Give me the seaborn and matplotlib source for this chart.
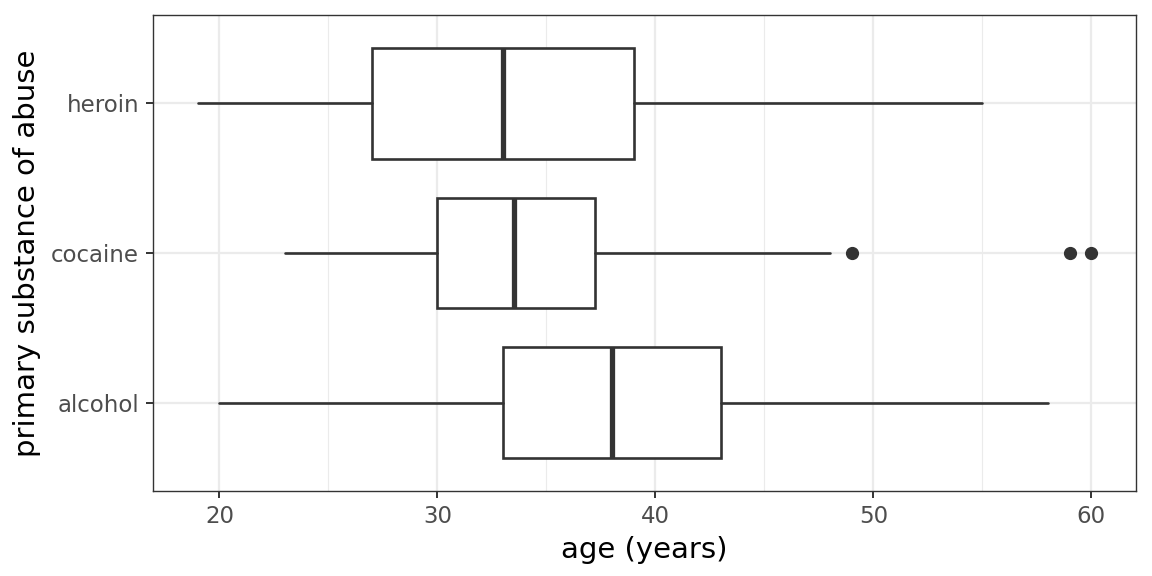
import matplotlib
matplotlib.use("Agg")
import matplotlib.pyplot as plt
import seaborn as sns

# five-number summaries (ages in years)
substances = ["alcohol", "cocaine", "heroin"]
whisker_low = [20, 23, 19]
q1 = [33, 30, 27]
median = [38, 33.5, 33]
q3 = [43, 37.25, 39]
whisker_high = [58, 48, 55]
outliers = [[], [49, 59, 60], []]

x_ticks = [20, 30, 40, 50, 60]
x_minor = [25, 35, 45, 55]

sns.set_theme(style="white")
plt.rcParams["font.family"] = ["DejaVu Sans"]

dark = "#333333"
grid_col = "#EBEBEB"

stats = []
for i, name in enumerate(substances):
    stats.append({
        "label": name,
        "whislo": whisker_low[i],
        "q1": q1[i],
        "med": median[i],
        "q3": q3[i],
        "whishi": whisker_high[i],
        "fliers": outliers[i],
    })

fig, ax = plt.subplots(figsize=(11.52, 5.76), dpi=100)
fig.subplots_adjust(left=0.1328, right=0.9861, top=0.974, bottom=0.1476)

ax.bxp(
    stats,
    positions=range(1, len(substances) + 1),
    widths=0.74,
    vert=False,
    patch_artist=True,
    showcaps=False,
    boxprops=dict(facecolor="white", edgecolor=dark, linewidth=1.9),
    whiskerprops=dict(color=dark, linewidth=1.9),
    medianprops=dict(color=dark, linewidth=3.8, solid_capstyle="butt"),
    flierprops=dict(marker="o", markerfacecolor=dark, markeredgecolor=dark,
                    markersize=8.5),
    zorder=3,
)

ax.set_xlim(16.95, 62.05)
ax.set_ylim(0.41, 3.59)
ax.set_xticks(x_ticks)
ax.set_xticks(x_minor, minor=True)
ax.set_yticks(range(1, len(substances) + 1))
ax.set_yticklabels(substances)

ax.grid(True, which="major", color=grid_col, linewidth=1.6, zorder=0)
ax.grid(True, which="minor", axis="x", color=grid_col, linewidth=0.8, zorder=0)
ax.set_axisbelow(True)

for side in ax.spines.values():
    side.set_color(dark)
    side.set_linewidth(1.0)

ax.tick_params(axis="both", which="major", length=5, width=1.4, color=dark,
               labelsize=16.5, labelcolor="#4D4D4D", pad=5, bottom=True, left=True)
ax.tick_params(axis="x", which="minor", length=0)

ax.set_xlabel("age (years)", fontsize=21, color="black", labelpad=6)
ax.set_ylabel("primary substance of abuse", fontsize=21, color="black", labelpad=7)

fig.savefig("out.png", dpi=100)
